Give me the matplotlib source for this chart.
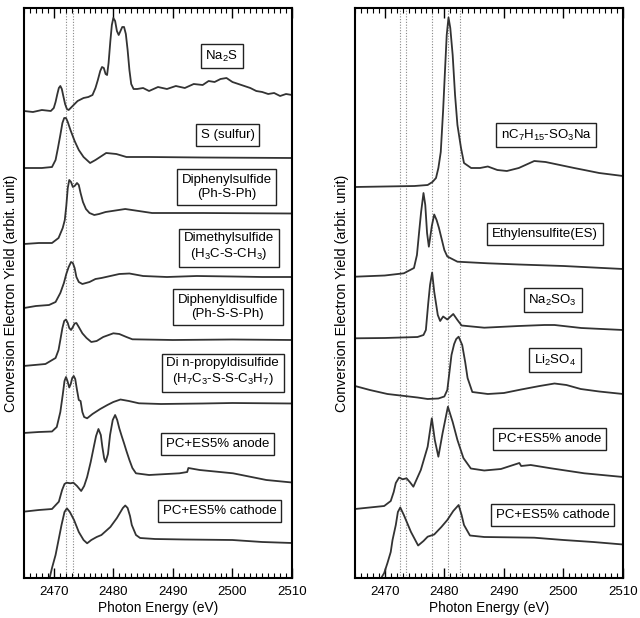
import matplotlib
matplotlib.use("Agg")
import matplotlib.pyplot as plt
from matplotlib.ticker import MultipleLocator

plt.rcParams['font.family'] = ['Liberation Sans', 'DejaVu Sans']
plt.rcParams['mathtext.fontset'] = 'custom'
plt.rcParams['mathtext.rm'] = 'Liberation Sans'
plt.rcParams['mathtext.it'] = 'Liberation Sans'

# ---------------- Left panel data (energy eV, stacked yield arb.) ----------------
na2s_e = [2465.0, 2466.5, 2468.0, 2469.5, 2470.0, 2470.3, 2470.6, 2470.85, 2471.1, 2471.35, 2471.6, 2471.9,
          2472.2, 2472.5, 2473.0, 2474.0, 2475.0, 2475.8, 2476.5, 2477.0, 2477.4, 2477.8, 2478.1, 2478.4,
          2478.7, 2478.95, 2479.2, 2479.5, 2479.75, 2480.0, 2480.3, 2480.6, 2480.9, 2481.2, 2481.5, 2481.8,
          2482.1, 2482.4, 2482.7, 2483.0, 2483.4, 2484, 2485, 2486, 2487.5, 2489, 2490.5, 2492, 2493.5,
          2495, 2496, 2497, 2498, 2499, 2500, 2501, 2502, 2503, 2504, 2505, 2506, 2507, 2508, 2509, 2510]
na2s_y = [467, 466, 468, 467, 470, 476, 484, 490, 492, 489, 482, 474,
          469, 468, 471, 477, 480, 481, 483, 490, 498, 507, 511, 510,
          504, 503, 515, 537, 553, 560, 557, 547, 543, 547, 551, 551,
          544, 528, 508, 494, 489, 489, 490, 487, 491, 489, 492, 490, 494,
          493, 497, 496, 499, 500, 496, 494, 492, 490, 487, 486, 484, 485, 482, 484, 483]

s_e = [2465, 2468, 2469.7, 2470.3, 2470.7, 2471.1, 2471.45, 2471.75, 2472.05, 2472.35, 2472.8, 2473.5, 2474.2,
       2475, 2476.1, 2477, 2478.8, 2480.5, 2482.2, 2486, 2495, 2510]
s_y = [410, 410, 411, 418, 430, 443, 455, 460, 460, 456, 448, 437, 428,
       421, 415, 418, 425, 424, 421, 421, 420.5, 420]

dps_e = [2465, 2467.5, 2469.7, 2470.8, 2471.5, 2471.85, 2472.1, 2472.35, 2472.6, 2472.9, 2473.2, 2473.5,
         2473.9, 2474.2, 2474.5, 2474.9, 2475.4, 2476.0, 2476.8, 2477.6, 2478.7, 2482, 2486.5, 2495, 2510]
dps_y = [334, 335, 335, 340, 350, 358, 372, 390, 398, 396, 391, 392,
         395, 393, 385, 376, 369, 365, 363, 364, 366, 369, 365, 365, 364.5]

dms_e = [2465, 2467, 2469.2, 2470.3, 2471.1, 2471.7, 2472.1, 2472.5, 2472.9, 2473.2, 2473.5, 2473.8,
         2474.2, 2474.8, 2476, 2477, 2478, 2479.5, 2481.0, 2482.7, 2485, 2489, 2494, 2500, 2505, 2510]
dms_y = [270, 272, 273, 276, 285, 295, 304, 311, 316, 315, 310, 301,
         296, 294, 296, 299, 300, 302, 304, 304.5, 302, 301, 302, 301.5, 301, 301]

dpds_e = [2464.9, 2468.6, 2470.3, 2470.8, 2471.1, 2471.45, 2471.75, 2472.05, 2472.35, 2472.6, 2472.9, 2473.2,
          2473.5, 2473.8, 2474.2, 2474.8, 2475.5, 2476.3, 2477.2, 2478.3, 2480.0, 2481, 2482.2, 2483.2,
          2490, 2500, 2510]
dpds_y = [212, 214, 220, 228, 238, 250, 257, 258.5, 255, 250, 248, 251,
          254.5, 255, 251, 244.7, 240, 236, 237, 241, 244.7, 244, 241, 238.7,
          238, 238.5, 238]

dnp_e = [2464.9, 2467.5, 2469.7, 2470.5, 2471.1, 2471.5, 2471.8, 2472.05, 2472.3, 2472.6, 2472.85, 2473.1,
         2473.35, 2473.6, 2473.9, 2474.2, 2474.5, 2474.8, 2475.1, 2475.6, 2476.5, 2477.8, 2479, 2480.0,
         2481.2, 2482.6, 2484.3, 2488, 2495, 2500, 2510]
dnp_y = [145, 146, 146.5, 151, 166, 183, 197, 201, 197, 190.5, 194, 200,
         202, 199, 188, 178, 177, 166, 161, 159.7, 164, 169, 173, 176,
         178.5, 177, 174.7, 174, 174.5, 175, 174.5]

anodeL_e = [2464.9, 2467.5, 2469.7, 2470.85, 2471.4, 2471.8, 2472.15, 2472.8, 2473.3, 2473.9, 2474.6, 2475.1,
            2475.6, 2476.2, 2476.75, 2477.1, 2477.5, 2477.9, 2478.15, 2478.45, 2478.7, 2479.1, 2479.45, 2479.9,
            2480.3, 2480.65, 2481.0, 2481.4, 2481.8, 2482.2, 2482.7, 2483.2, 2483.8, 2486.0, 2491.1, 2492.4,
            2492.6, 2494.5, 2500.1, 2505.7, 2510]
anodeL_y = [66.3, 68, 69, 76.3, 88, 94, 95.3, 94.7, 95.3, 92, 87, 92,
            101, 116, 132, 142, 149, 143, 131.3, 120, 116, 124, 143, 158,
            163, 158, 149.7, 142, 134.7, 127, 118, 110, 104.7, 103, 104.7, 106,
            110, 108, 104.7, 98, 95.5]

cathL_e = [2469.3, 2469.7, 2470.3, 2470.8, 2471.3, 2471.8, 2472.2, 2472.7, 2473.4, 2474.2, 2475, 2475.6,
           2476.3, 2477.2, 2478.0, 2479.5, 2480.6, 2481.2, 2481.6, 2482.0, 2482.4, 2482.8, 2483.1, 2483.8,
           2484.5, 2487, 2492, 2500, 2505, 2510]
cathL_y = [0, 10, 23, 38, 53, 66, 69.7, 66, 58, 46, 38, 34.7,
           38, 41, 43, 51, 60, 66, 70, 72.5, 70, 62, 53, 43,
           40, 39, 38.5, 38, 36, 35]

# ---------------- Right panel data ----------------
c7_e = [2465, 2470, 2475, 2477.2, 2478.0, 2478.6, 2479.0, 2479.4, 2479.8, 2480.1, 2480.4, 2480.7, 2481.0,
        2481.4, 2481.8, 2482.2, 2482.8, 2483.3, 2484.5, 2486, 2487.3, 2488.9, 2490.5, 2492.5, 2495.1,
        2497, 2499, 2501.8, 2503.5, 2506, 2510]
c7_y = [391, 391.5, 392, 393, 396, 400, 410, 426, 468, 506, 543, 560.5, 550,
        523, 483, 453, 430, 415, 410, 410, 411.5, 408, 407, 410, 417,
        416, 413.5, 410, 408, 405, 402]

es_e = [2465, 2470, 2473.2, 2474.9, 2475.4, 2475.8, 2476.1, 2476.5, 2476.8, 2477.1, 2477.4, 2477.9,
        2478.3, 2478.7, 2479.1, 2480.0, 2480.5, 2482.2, 2487.3, 2492.5, 2500, 2510]
es_y = [301.3, 302.5, 304.7, 310, 323, 348, 366, 385, 373, 345, 331.3, 352,
        363.5, 358, 350, 328, 321.5, 316.3, 314.7, 313.5, 312, 309]

na2so3_e = [2465, 2470, 2475.5, 2476.5, 2476.9, 2477.3, 2477.6, 2477.95, 2478.3, 2478.9, 2479.3, 2479.8,
            2480.5, 2481.5, 2482.2, 2482.9, 2486.7, 2492.5, 2496.8, 2498.5, 2503, 2510]
na2so3_y = [239.7, 240, 241, 243, 248, 275, 293, 305.5, 286.3, 263, 257, 261.5,
            258.5, 264, 258, 252.5, 250.3, 252, 253, 253, 250, 248]

li2so4_e = [2465, 2467.5, 2470.45, 2475.5, 2477.2, 2479.0, 2480.0, 2480.5, 2480.8, 2481.2, 2481.65, 2482.0,
            2482.4, 2483.0, 2483.5, 2483.9, 2484.7, 2487.3, 2490, 2492.9, 2496, 2498.5, 2500.5, 2502.9,
            2506, 2510]
li2so4_y = [192, 188, 184, 180.5, 179, 179.5, 181.5, 188, 203, 223, 234, 239,
            241.3, 233, 216, 200, 186, 184, 185, 188.5, 192, 194.5, 193, 189,
            186.5, 184]

anodeR_e = [2465, 2469.9, 2471.0, 2471.5, 2471.85, 2472.4, 2473.0, 2473.65, 2474.2, 2474.8, 2476.05, 2477.2,
            2477.9, 2478.4, 2479.0, 2479.7, 2480.6, 2481.4, 2482.2, 2483.2, 2484.45, 2486.7, 2489.5, 2492.6,
            2492.9, 2494.5, 2497.9, 2503.5, 2510]
anodeR_y = [69, 72, 77, 86, 95, 100.5, 98.7, 99.7, 96, 91.3, 108, 131.3,
            159.7, 138, 121.3, 144.7, 171.3, 156, 138, 120, 109.5, 107.5, 109, 115,
            112, 113, 109.7, 104.7, 101]

cathR_e = [2469.5, 2469.9, 2470.45, 2471.0, 2471.3, 2471.85, 2472.2, 2472.6, 2473.2, 2474.4, 2475.6, 2476.5,
           2477.2, 2478.3, 2479.5, 2480.5, 2481.5, 2482.4, 2482.9, 2483.3, 2484.3, 2486.7, 2492.9, 2495.1,
           2500, 2505, 2510]
cathR_y = [1, 5, 15, 26, 38, 53, 66, 70.5, 63, 46, 32.5, 37,
           41.3, 43.5, 51, 58, 67, 73, 63, 53, 42.5, 41, 40.5, 40.3,
           38, 36, 33.5]

left_lines = [2471.97, 2473.2]
right_lines = [2472.5, 2473.6, 2478.0, 2480.65, 2482.6]

left_labels = ["Na$_2$S", "S (sulfur)", "Diphenylsulfide\n(Ph-S-Ph)", "Dimethylsulfide\n(H$_3$C-S-CH$_3$)",
               "Diphenyldisulfide\n(Ph-S-S-Ph)", "Di n-propyldisulfide\n(H$_7$C$_3$-S-S-C$_3$H$_7$)",
               "PC+ES5% anode", "PC+ES5% cathode"]
left_label_pos = [(2498.2, 522), (2499.2, 443), (2499.0, 391), (2499.4, 331),
                  (2499.2, 271), (2498.35, 206), (2497.5, 134), (2497.85, 67)]
right_labels = ["nC$_7$H$_{15}$-SO$_3$Na", "Ethylensulfite(ES)", "Na$_2$SO$_3$", "Li$_2$SO$_4$",
                "PC+ES5% anode", "PC+ES5% cathode"]
right_label_pos = [(2497.1, 443), (2496.9, 344), (2498.2, 278), (2498.6, 218), (2497.7, 139), (2498.2, 63)]

xticks = [2470, 2480, 2490, 2500, 2510]

left_curves = [(na2s_e, na2s_y), (s_e, s_y), (dps_e, dps_y), (dms_e, dms_y), (dpds_e, dpds_y),
               (dnp_e, dnp_y), (anodeL_e, anodeL_y), (cathL_e, cathL_y)]
right_curves = [(c7_e, c7_y), (es_e, es_y), (na2so3_e, na2so3_y), (li2so4_e, li2so4_y),
                (anodeR_e, anodeR_y), (cathR_e, cathR_y)]

fig = plt.figure(figsize=(6.40, 6.18), dpi=100)
axL = fig.add_axes([24/640, 40/618, 268/640, 570/618])
axR = fig.add_axes([355/640, 40/618, 268/640, 570/618])

for ax, curves, lines, labels, pos in [(axL, left_curves, left_lines, left_labels, left_label_pos),
                                        (axR, right_curves, right_lines, right_labels, right_label_pos)]:
    for xv in lines:
        ax.axvline(xv, color='#888888', ls=(0, (1, 1.5)), lw=0.8, zorder=1)
    for e, y in curves:
        ax.plot(e, y, color='#333333', lw=1.3, zorder=2, solid_joinstyle='round')
    for t, (x, y) in zip(labels, pos):
        ax.text(x, y, t, ha='center', va='center', fontsize=9.5, multialignment='center', zorder=3,
                bbox=dict(boxstyle='square,pad=0.35', fc='white', ec='#222222', lw=1.0))
    ax.set_xlim(2465, 2510)
    ax.set_ylim(0, 570)
    ax.set_xticks(xticks)
    ax.xaxis.set_minor_locator(MultipleLocator(1))
    ax.set_yticks([])
    ax.tick_params(axis='x', which='major', direction='in', top=True, bottom=True, length=7, width=1.0,
                   labelsize=9.5, pad=6)
    ax.tick_params(axis='x', which='minor', direction='in', top=True, bottom=True, length=3.5, width=0.8)
    for sp in ax.spines.values():
        sp.set_linewidth(1.5)
    ax.set_xlabel("Photon Energy (eV)", fontsize=9.8, labelpad=2)
    ax.set_ylabel("Conversion Electron Yield (arbit. unit)", fontsize=10.3, labelpad=4)

fig.savefig("out.png", dpi=100)
